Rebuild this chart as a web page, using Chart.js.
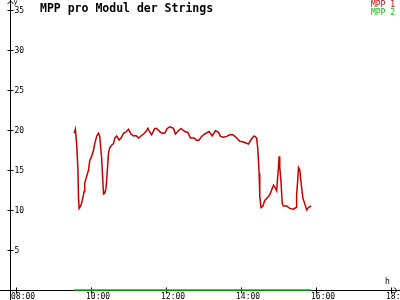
<!DOCTYPE html>
<html>
<head>
<meta charset="utf-8">
<script src="https://cdn.jsdelivr.net/npm/chart.js@4.4.0/dist/chart.umd.min.js"></script>
<style>
  html, body { margin: 0; padding: 0; background: #fff; }
  canvas { display: block; }
</style>
</head>
<body>
<canvas id="mppChart" width="400" height="300"></canvas>
<script>
// MPP 1 samples (time of day, value)
const mpp1Times = [
  "09:33","09:35","09:37","09:39","09:40","09:41","09:44","09:46","09:49","09:50",
  "09:53","09:56","09:58","10:01","10:04","10:06","10:09","10:12","10:14","10:17",
  "10:19","10:20","10:22","10:24","10:26","10:28","10:30","10:33","10:36","10:38",
  "10:41","10:45","10:48","10:52","10:56","11:00","11:04","11:08","11:12","11:16",
  "11:20","11:24","11:28","11:31","11:33","11:37","11:42","11:45","11:50","11:54",
  "11:58","12:02","12:06","12:12","12:15","12:20","12:24","12:30","12:35","12:39",
  "12:45","12:49","12:53","12:57","13:02","13:09","13:14","13:19","13:24","13:27",
  "13:32","13:37","13:42","13:47","13:52","13:58","14:04","14:12","14:17","14:21",
  "14:25","14:27","14:29","14:30","14:32","14:35","14:38","14:44","14:46","14:49",
  "14:52","14:54","14:57","15:00","15:01","15:02","15:04","15:06","15:08","15:13",
  "15:18","15:24","15:28","15:29","15:31","15:32","15:34","15:36","15:39","15:42",
  "15:45","15:48","15:52"
];
const mpp1Values = [
  19.6, 20.1, 18.3, 15.2, 11.5, 10.2, 10.6, 11.2, 12.3, 13.4,
  14.2, 15.0, 16.2, 16.7, 17.5, 18.3, 19.2, 19.6, 19.2, 16.5,
  13.5, 12.0, 12.1, 12.7, 14.8, 17.1, 17.8, 18.1, 18.3, 19.0,
  19.25, 18.75, 19.0, 19.6, 19.75, 20.1, 19.5, 19.25, 19.3, 19.0,
  19.25, 19.5, 19.8, 20.2, 19.9, 19.4, 20.2, 20.2, 19.8, 19.6,
  19.6, 20.2, 20.4, 20.2, 19.5, 19.9, 20.2, 19.8, 19.7, 19.0,
  19.0, 18.7, 18.75, 19.2, 19.5, 19.8, 19.25, 19.9, 19.7, 19.2,
  19.1, 19.2, 19.4, 19.4, 19.1, 18.6, 18.5, 18.25, 18.9, 19.25,
  19.0, 17.5, 14.6, 11.7, 10.3, 10.5, 11.2, 11.7, 11.9, 12.5,
  13.1, 12.9, 12.4, 15.4, 16.7, 15.4, 13.5, 10.8, 10.5, 10.5,
  10.2, 10.1, 10.3, 11.9, 14.0, 15.3, 15.0, 13.5, 11.5, 10.8,
  10.0, 10.3, 10.5
];
// MPP 2 stays at zero over the same period
const mpp2Times = ["09:33", "15:52"];
const mpp2Values = [0, 0];

const seriesNames = ["MPP 1", "MPP 2"];
const seriesColors = ["#c40000", "#00c000"];

const xTickLabels = ["08:00", "10:00", "12:00", "14:00", "16:00", "18:00"];
const yTickValues = [5, 10, 15, 20, 25, 30, 35];
const xAxisOrigin = "07:50";

const titleText = "MPP pro Modul der Strings";
const xUnit = "h";
const yUnit = "y";

function toHours(s) {
  const [h, m] = s.split(":").map(Number);
  return h + m / 60;
}

const FONT = "'DejaVu Sans Mono', 'Liberation Mono', monospace";

const axesPlugin = {
  id: "oldAxes",
  beforeDatasetsDraw(chart) {
    const { ctx, scales: { x, y }, width, height } = chart;
    const ax = Math.round(x.getPixelForValue(toHours(xAxisOrigin))) + 0.5;
    const ay = Math.round(y.getPixelForValue(0)) + 0.5;
    ctx.save();
    ctx.strokeStyle = "#000";
    ctx.lineWidth = 1;
    ctx.beginPath();
    // axis lines
    ctx.moveTo(ax, 0); ctx.lineTo(ax, height);
    ctx.moveTo(0, ay); ctx.lineTo(width, ay);
    // arrows
    ctx.moveTo(ax - 3, 4); ctx.lineTo(ax, 1); ctx.lineTo(ax + 3, 4);
    ctx.moveTo(width - 6, ay - 3); ctx.lineTo(width - 3, ay); ctx.lineTo(width - 6, ay + 3);
    // ticks
    yTickValues.forEach(v => {
      const py = Math.round(y.getPixelForValue(v)) + 0.5;
      ctx.moveTo(ax - 3, py); ctx.lineTo(ax + 3, py);
    });
    xTickLabels.forEach(l => {
      const px = Math.round(x.getPixelForValue(toHours(l))) + 0.5;
      ctx.moveTo(px, ay - 3); ctx.lineTo(px, ay + 3);
    });
    ctx.stroke();

    ctx.fillStyle = "#000";
    ctx.font = "8px " + FONT;
    ctx.textBaseline = "middle";
    ctx.textAlign = "left";
    yTickValues.forEach(v => {
      ctx.fillText(String(v), ax + 4, Math.round(y.getPixelForValue(v)) + 1);
    });
    xTickLabels.forEach(l => {
      ctx.fillText(l, Math.round(x.getPixelForValue(toHours(l))) - 5, ay + 6);
    });
    ctx.font = "7px " + FONT;
    ctx.fillText(yUnit, ax + 3, 2);
    ctx.font = "8px " + FONT;
    ctx.fillText(xUnit, width - 15, ay - 9);
    ctx.restore();
  },
  afterDraw(chart) {
    const { ctx, width } = chart;
    ctx.save();
    ctx.textBaseline = "middle";
    ctx.font = "bold 11.5px " + FONT;
    ctx.fillStyle = "#000";
    ctx.textAlign = "left";
    ctx.fillText(titleText, 40, 9);
    ctx.font = "8px " + FONT;
    ctx.textAlign = "right";
    seriesNames.forEach((n, i) => {
      ctx.fillStyle = seriesColors[i];
      ctx.fillText(n, width - 5, 5 + i * 8);
    });
    ctx.restore();
  }
};

new Chart(document.getElementById("mppChart"), {
  type: "line",
  data: {
    datasets: [
      {
        label: seriesNames[1],
        data: mpp2Times.map((t, i) => ({ x: toHours(t), y: mpp2Values[i] })),
        borderColor: seriesColors[1],
        borderWidth: 1.5,
        pointRadius: 0,
        tension: 0,
        clip: false,
      },
      {
        label: seriesNames[0],
        data: mpp1Times.map((t, i) => ({ x: toHours(t), y: mpp1Values[i] })),
        borderColor: seriesColors[0],
        borderWidth: 1.5,
        pointRadius: 0,
        tension: 0,
      },
    ],
  },
  options: {
    responsive: false,
    devicePixelRatio: 1,
    animation: false,
    layout: { padding: 0 },
    plugins: { legend: { display: false }, title: { display: false }, tooltip: { enabled: false } },
    scales: {
      x: { type: "linear", min: 7.573, max: 18.24, display: false },
      y: { type: "linear", min: -1.25, max: 36.25, display: false },
    },
  },
  plugins: [axesPlugin],
});
</script>
</body>
</html>
